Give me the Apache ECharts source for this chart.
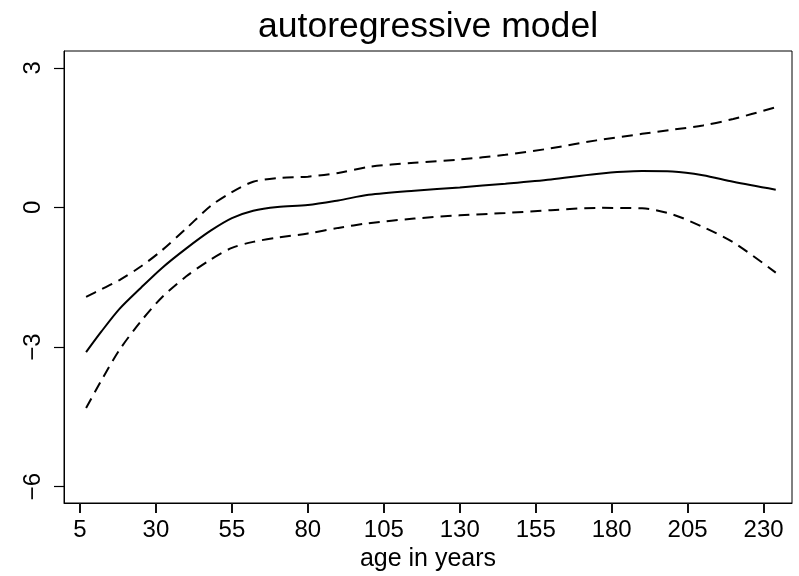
<!DOCTYPE html>
<html>
<head>
<meta charset="utf-8">
<title>autoregressive model</title>
<script src="https://cdn.jsdelivr.net/npm/echarts@6/dist/echarts.min.js"></script>
<style>
  html, body { margin: 0; padding: 0; background: #fff; }
  #chart { width: 799px; height: 576px; }
</style>
</head>
<body>
<div id="chart"></div>
<script>
// age (x) and fitted effect with upper / lower band
var ages = [7, 12, 18, 25, 32, 40, 48, 55, 62, 70, 80, 90, 100, 115, 130, 145, 160, 175, 190, 200, 210, 220, 234];
var fit = [-3.11, -2.67, -2.18, -1.73, -1.30, -0.88, -0.50, -0.23, -0.07, 0.01, 0.05, 0.15, 0.27, 0.36, 0.43, 0.51, 0.60, 0.72, 0.78, 0.77, 0.69, 0.55, 0.38];
var upper = [-1.92, -1.76, -1.56, -1.27, -0.92, -0.45, 0.03, 0.33, 0.55, 0.63, 0.66, 0.74, 0.87, 0.96, 1.03, 1.13, 1.27, 1.44, 1.58, 1.67, 1.76, 1.90, 2.15];
var lower = [-4.31, -3.72, -3.06, -2.45, -1.93, -1.48, -1.12, -0.87, -0.74, -0.65, -0.56, -0.44, -0.34, -0.24, -0.17, -0.12, -0.06, -0.01, -0.02, -0.15, -0.42, -0.75, -1.40];

var xTicks = [5, 30, 55, 80, 105, 130, 155, 180, 205, 230];
var yTicks = [-6, -3, 0, 3];

function pairs(ys) {
  return ages.map(function (a, i) { return [a, ys[i]]; });
}

var font = '"Liberation Sans", Arial, Helvetica, sans-serif';
var myChart = echarts.init(document.getElementById("chart"));

var option = {
  backgroundColor: "#fff",
  animation: false,
  title: {
    text: "autoregressive model",
    left: 423,
    top: 4,
    textAlign: "center",
    textStyle: { fontFamily: font, fontSize: 35.6, fontWeight: "normal", color: "#000" }
  },
  grid: {
    left: 64, right: 7, top: 51, bottom: 73,
    show: true, borderColor: "#000", borderWidth: 1,
    outerBoundsMode: "none"
  },
  xAxis: {
    type: "value",
    position: "bottom",
    min: -0.27,
    max: 239.35,
    name: "age in years",
    nameLocation: "middle",
    nameGap: 33,
    nameTextStyle: { fontFamily: font, fontSize: 25, color: "#000" },
    axisLine: { show: true, onZero: false, lineStyle: { color: "#000", width: 1 } },
    axisTick: { show: true, customValues: xTicks, length: 10, lineStyle: { color: "#111", width: 2 } },
    axisLabel: { show: true, customValues: xTicks, margin: 15, fontFamily: font, fontSize: 24, color: "#000" },
    splitLine: { show: false }
  },
  yAxis: {
    type: "value",
    min: -6.35,
    max: 3.36,
    axisLine: { show: true, onZero: false, lineStyle: { color: "#000", width: 1 } },
    axisTick: { show: true, customValues: yTicks, length: 10, lineStyle: { color: "#000", width: 1.2 } },
    axisLabel: {
      customValues: yTicks,
      rotate: 90,
      margin: 19,
      fontFamily: font,
      fontSize: 24,
      color: "#000",
      formatter: function (v) { return String(v).replace("-", "\u2212"); }
    },
    splitLine: { show: false }
  },
  series: [
    {
      type: "line", data: pairs(fit), smooth: 0.3, symbol: "none",
      lineStyle: { color: "#000", width: 2 }
    },
    {
      type: "line", data: pairs(upper), smooth: 0.3, symbol: "none",
      lineStyle: { color: "#000", width: 2, type: [11, 7] }
    },
    {
      type: "line", data: pairs(lower), smooth: 0.3, symbol: "none",
      lineStyle: { color: "#000", width: 2, type: [11, 7] }
    }
  ]
};
myChart.setOption(option);
</script>
</body>
</html>
